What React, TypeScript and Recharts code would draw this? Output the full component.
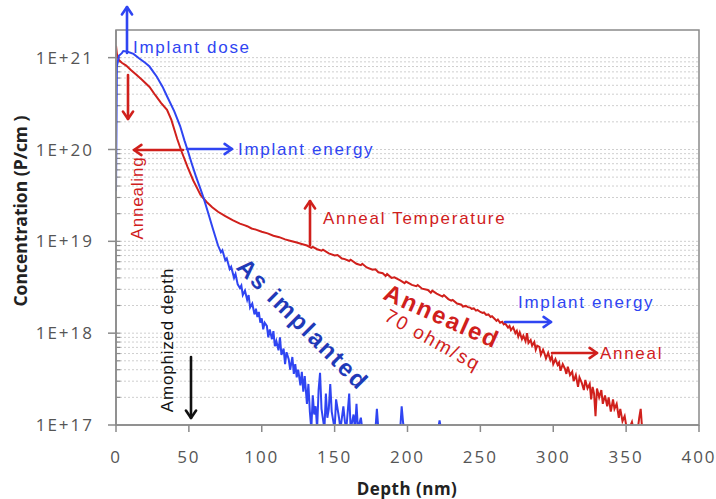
import React from "react";
import { LineChart, Line, XAxis, YAxis, ReferenceLine } from "recharts";

// depth (nm) vs concentration, as-implanted profile
const asImplanted: [number, number][] = [
  [0, 3.5e19], [0.6, 8e20], [2, 1.05e21], [4, 1.12e21], [5, 1.18e21], [8, 1.16e21],
  [12, 1.1e21], [16, 9.8e20], [20, 8.8e20], [23, 8e20], [28, 6.2e20], [32, 4.8e20],
  [35, 3.8e20], [40, 2.6e20], [44, 1.8e20], [47, 1.25e20], [49, 1.0e20], [52, 7e19],
  [55, 5e19], [58, 3.7e19], [60, 3e19], [63, 2.1e19], [66, 1.45e19], [70, 9e18],
  [72, 7.6e18], [73, 8e18], [75, 6.2e18], [76, 6.5e18], [78, 5e18], [79, 5.3e18],
  [81, 4.0e18], [82, 4.4e18], [83.5, 3.4e18], [85, 3.1e18], [86, 3.3e18], [87, 2.6e18],
  [88.5, 2.9e18], [90, 2.3e18], [91, 2.6e18], [92, 1.9e18], [93.5, 2.1e18], [95, 1.6e18],
  [96, 1.85e18], [97, 1.5e18], [98, 1.7e18], [99, 1.3e18], [100, 1.45e18], [101, 1.1e18],
  [102, 1.3e18], [103.5, 1.2e18], [104.5, 9e17], [105.5, 1.1e18], [107, 8.6e17], [108, 1.05e18],
  [109, 7.2e17], [110, 8.2e17], [111.5, 6.5e17], [112.5, 9e17], [113.5, 5.8e17], [115, 6.8e17],
  [116, 4.6e17], [117, 6.2e17], [118.5, 5.2e17], [119.5, 4.0e17], [121, 5.5e17], [122, 3.6e17],
  [123, 4.6e17], [124, 3.3e17], [125, 4.0e17], [126.5, 2.7e17], [127.5, 3.8e17], [128.5, 2.3e17],
  [129.5, 3.4e17], [131, 1.7e17], [132, 2.8e17], [133, 1.4e17], [134, 9e16], [135, 2.1e17],
  [136, 1.3e17], [137, 1.6e17], [138, 9e16], [139, 2.4e17], [140, 3.7e17], [141, 1.5e17],
  [143, 9e16], [144, 2.2e17], [145, 1.2e17], [146, 1.5e17], [147, 2.8e17], [148, 1.4e17],
  [150, 9e16], [151, 1.9e17], [153, 1.2e17], [154, 9e16], [156, 1.6e17], [157, 1.1e17],
  [158, 9e16], [160, 2.2e17], [161, 9e16], [163, 1.3e17], [164, 9e16], [165, 1.7e17],
  [166, 9e16], [168, 1.2e17], [169, 9e16], [178, 9e16], [179, 1.5e17], [180, 9e16],
  [195, 9e16], [196, 1.6e17], [197, 1.05e17], [198, 9e16], [221, 9e16], [222, 1.12e17],
  [223, 9e16],
];

// depth (nm) vs concentration, after anneal
const annealed: [number, number][] = [
  [0, 1.35e21], [0.6, 1.1e21], [2, 9.4e20], [4, 8.8e20], [7, 8.2e20], [10, 7.4e20],
  [14, 6.5e20], [18, 5.7e20], [23, 4.8e20], [27, 3.9e20], [31, 3.2e20], [35, 2.7e20],
  [38, 2.1e20], [40, 1.65e20], [42, 1.3e20], [45, 9.5e19], [49, 6.5e19], [53, 4.6e19],
  [56, 3.7e19], [58, 3.2e19], [62, 2.7e19], [66, 2.35e19], [70, 2.1e19], [75, 1.88e19],
  [80, 1.7e19], [85, 1.56e19], [88, 1.5e19], [90, 1.46e19], [93, 1.38e19], [96, 1.34e19],
  [100, 1.27e19], [104, 1.22e19], [108, 1.15e19], [112, 1.11e19], [116, 1.05e19],
  [120, 1.01e19], [124, 9.7e18], [128, 9.3e18], [131, 9.0e18], [134, 8.5e18], [135, 8.7e18],
  [138, 8.2e18], [141, 7.9e18], [142, 8.1e18], [146, 7.4e18], [150, 7.0e18], [152, 7.1e18],
  [155, 6.5e18], [157, 6.4e18], [160, 6.1e18], [161, 6.3e18], [165, 5.7e18], [168, 5.5e18],
  [169, 5.7e18], [172, 5.2e18], [176, 4.9e18], [178, 4.95e18], [180, 4.6e18], [183, 4.5e18],
  [185, 4.2e18], [186, 4.4e18], [189, 4.0e18], [191, 4.05e18], [195, 3.75e18], [198, 3.5e18],
  [199, 3.65e18], [203, 3.35e18], [206, 3.25e18], [207, 3.35e18], [210, 3.05e18], [214, 2.95e18],
  [216, 2.75e18], [217, 2.9e18], [220, 2.7e18], [224, 2.5e18], [225, 2.6e18], [228, 2.35e18],
  [230, 2.26e18], [231, 2.3e18], [234, 2.1e18], [237, 2.04e18], [238, 1.95e18], [240, 1.98e18],
  [241.5, 1.92e18], [243, 1.9e18], [244, 1.84e18], [245.5, 1.86e18], [247, 1.76e18], [248, 1.79e18],
  [250, 1.7e18], [251.5, 1.66e18], [252.5, 1.68e18], [254, 1.58e18], [255.5, 1.6e18], [257, 1.5e18],
  [258, 1.53e18], [260, 1.42e18], [261, 1.36e18], [262, 1.41e18], [263.5, 1.3e18], [265, 1.33e18],
  [266, 1.25e18], [267, 1.28e18], [269, 1.15e18], [270, 1.2e18], [271, 1.08e18], [272.5, 1.16e18],
  [274, 1.0e18], [275, 1.06e18], [276, 9.2e17], [277, 1.02e18], [278.5, 8.6e17], [279.5, 9.4e17],
  [281, 8.2e17], [282, 1.0e18], [283, 7.8e17], [284.5, 8.4e17], [285.5, 7.3e17], [287, 8.0e17],
  [288, 6.6e17], [289, 7.3e17], [290.5, 7.1e17], [291.5, 5.8e17], [293, 6.6e17], [294, 6.0e17],
  [295, 5.3e17], [296.5, 6.1e17], [298, 5.1e17], [299, 5.6e17], [300, 4.6e17], [301.5, 5.2e17],
  [303, 4.5e17], [304, 4.8e17], [305, 3.9e17], [306.5, 4.6e17], [308, 4.1e17], [309, 3.6e17],
  [310, 4.3e17], [311.5, 3.5e17], [313, 3.8e17], [314, 3.0e17], [315.5, 3.5e17], [317, 2.6e17],
  [318, 3.3e17], [319.5, 2.9e17], [321, 2.4e17], [322, 3.1e17], [323.5, 2.5e17], [325, 2.8e17],
  [326, 1.9e17], [327, 2.6e17], [328, 2.2e17], [329, 1.25e17], [330, 2.5e17], [331.5, 2.0e17],
  [333, 2.4e17], [334, 1.7e17], [335.5, 2.1e17], [337, 1.6e17], [338, 2.0e17], [339.5, 1.4e17],
  [341, 1.9e17], [342, 1.5e17], [343.5, 1.7e17], [345, 1.2e17], [346, 1.5e17], [347.5, 1.1e17],
  [349, 1.25e17], [350, 1.0e17], [352, 9e16], [354, 1.08e17], [355, 9e16], [358, 9e16],
  [359, 1.2e17], [360, 1.5e17], [361, 9e16], [364, 9e16],
];

const depthTicks = [0, 50, 100, 150, 200, 250, 300, 350, 400];
const decadeTicks = [1e17, 1e18, 1e19, 1e20, 1e21];
const minorSteps = [2, 3, 4, 5, 6, 7, 8, 9];

const gridValues = [
  ...decadeTicks.slice(1),
  ...decadeTicks.slice(0, 4).flatMap((d) => minorSteps.map((m) => m * d)),
];

const blueData = asImplanted.map(([depth, conc]) => ({ depth, conc }));
const redData = annealed.map(([depth, conc]) => ({ depth, conc }));

const BLUE = "#2f45f2";
const RED = "#d0201c";
const AXIS = "#8a8a8a";
const LABEL_FONT = "'Open Sans', sans-serif";
const NOTE_FONT = "'Liberation Sans', Arial, sans-serif";

const expLabel = (v: number) => `1E+${Math.round(Math.log10(v))}`;

const Arrow = ({ x1, y1, x2, y2, color }: { x1: number; y1: number; x2: number; y2: number; color: string }) => {
  const a = Math.atan2(y2 - y1, x2 - x1);
  const h = 9;
  const s = 0.6;
  const p1 = [x2 - h * Math.cos(a - s), y2 - h * Math.sin(a - s)];
  const p2 = [x2 - h * Math.cos(a + s), y2 - h * Math.sin(a + s)];
  return (
    <g stroke={color} strokeWidth={2.6} fill="none" strokeLinecap="round" strokeLinejoin="round">
      <line x1={x1} y1={y1} x2={x2} y2={y2} />
      <polyline points={`${p1[0]},${p1[1]} ${x2},${y2} ${p2[0]},${p2[1]}`} />
    </g>
  );
};

const noteStyle = { fontFamily: NOTE_FONT, fontSize: 17, letterSpacing: 1.7 };

const Notes = () => (
  <svg width={716} height={499} style={{ position: "absolute", left: 0, top: 0, pointerEvents: "none" }}>
    <rect x={116} y={30} width={583} height={395} fill="none" stroke={AXIS} strokeWidth={1.5} />

    <text x={20} y={211} transform="rotate(-90 20 211)" textAnchor="middle" dominantBaseline="central"
      fontFamily={LABEL_FONT} fontWeight={700} fontSize={17.5} fill="#222">
      Concentration (P/cm )
    </text>
    <text x={407} y={488} textAnchor="middle" dominantBaseline="central"
      fontFamily={LABEL_FONT} fontWeight={700} fontSize={17} letterSpacing={0.5} fill="#222">
      Depth (nm)
    </text>

    <Arrow x1={127} y1={53} x2={127} y2={7} color={BLUE} />
    <text x={133} y={53} fill={BLUE} style={noteStyle}>Implant dose</text>

    <Arrow x1={128} y1={75} x2={128} y2={119} color={RED} />

    <Arrow x1={183} y1={150} x2={134} y2={150} color={RED} />
    <Arrow x1={187} y1={149} x2={232} y2={149} color={BLUE} />
    <text x={238} y={155} fill={BLUE} style={noteStyle}>Implant energy</text>

    <text x={137} y={198} transform="rotate(-90 137 198)" textAnchor="middle" dominantBaseline="central"
      fill={RED} style={{ ...noteStyle, letterSpacing: 0.8 }}>
      Annealing
    </text>

    <Arrow x1={310} y1={245} x2={310} y2={201} color={RED} />
    <text x={323} y={224} fill={RED} style={noteStyle}>Anneal Temperature</text>

    <text x={167} y={340} transform="rotate(-90 167 340)" textAnchor="middle" dominantBaseline="central"
      fill="#111" style={{ ...noteStyle, letterSpacing: 0.8 }}>
      Amophized depth
    </text>
    <Arrow x1={191} y1={357} x2={191} y2={418} color="#111" />

    <text x={303} y={324} transform="rotate(45 303 324)" textAnchor="middle" dominantBaseline="central"
      fill="#1f3ab8" fontFamily={NOTE_FONT} fontWeight={700} fontSize={24} letterSpacing={2}>
      As implanted
    </text>

    <text x={442} y={316} transform="rotate(24 442 316)" textAnchor="middle" dominantBaseline="central"
      fill={RED} fontFamily={NOTE_FONT} fontWeight={700} fontSize={24} letterSpacing={2}>
      Annealed
    </text>
    <text x={433} y={340} transform="rotate(29 433 340)" textAnchor="middle" dominantBaseline="central"
      fill={RED} fontFamily={NOTE_FONT} fontSize={19} letterSpacing={2}>
      70 ohm/sq
    </text>

    <text x={518} y={308} fill={BLUE} style={noteStyle}>Implant energy</text>
    <Arrow x1={505} y1={322} x2={551} y2={322} color={BLUE} />

    <Arrow x1={552} y1={353} x2={597} y2={353} color={RED} />
    <text x={600} y={359} fill={RED} style={noteStyle}>Anneal</text>
  </svg>
);

export default function App() {
  return (
    <div style={{ position: "absolute", left: 0, top: 0, width: 716, height: 499, background: "#fff" }}>
      <LineChart width={716} height={499} margin={{ top: 30, right: 17, bottom: 34, left: 36 }}>
        {gridValues.map((v) => (
          <ReferenceLine key={`g${v}`} y={v} stroke="#cfcfcf" strokeDasharray="2 2" strokeWidth={1} />
        ))}
        {gridValues.map((v) => (
          <ReferenceLine key={`t${v}`} segment={[{ x: 0, y: v }, { x: 3, y: v }]} stroke={AXIS} strokeWidth={1.2} />
        ))}
        <XAxis
          dataKey="depth"
          type="number"
          domain={[0, 400]}
          ticks={depthTicks}
          allowDataOverflow
          height={40}
          tickSize={7}
          tickMargin={19}
          stroke={AXIS}
          strokeWidth={1.5}
          tick={{ fill: "#555", fontSize: 17, fontFamily: LABEL_FONT, letterSpacing: 2 }}
        />
        <YAxis
          dataKey="conc"
          type="number"
          scale="log"
          domain={[1e17, 2e21]}
          ticks={decadeTicks}
          allowDataOverflow
          width={80}
          tickSize={8}
          tickMargin={14}
          stroke={AXIS}
          strokeWidth={1.5}
          tickFormatter={expLabel}
          tick={{ fill: "#555", fontSize: 17, fontFamily: LABEL_FONT, letterSpacing: 2 }}
        />
        <Line data={redData} dataKey="conc" stroke={RED} strokeWidth={2} dot={false} isAnimationActive={false} />
        <Line data={blueData} dataKey="conc" stroke={BLUE} strokeWidth={2} dot={false} isAnimationActive={false} />
      </LineChart>
      <Notes />
    </div>
  );
}
